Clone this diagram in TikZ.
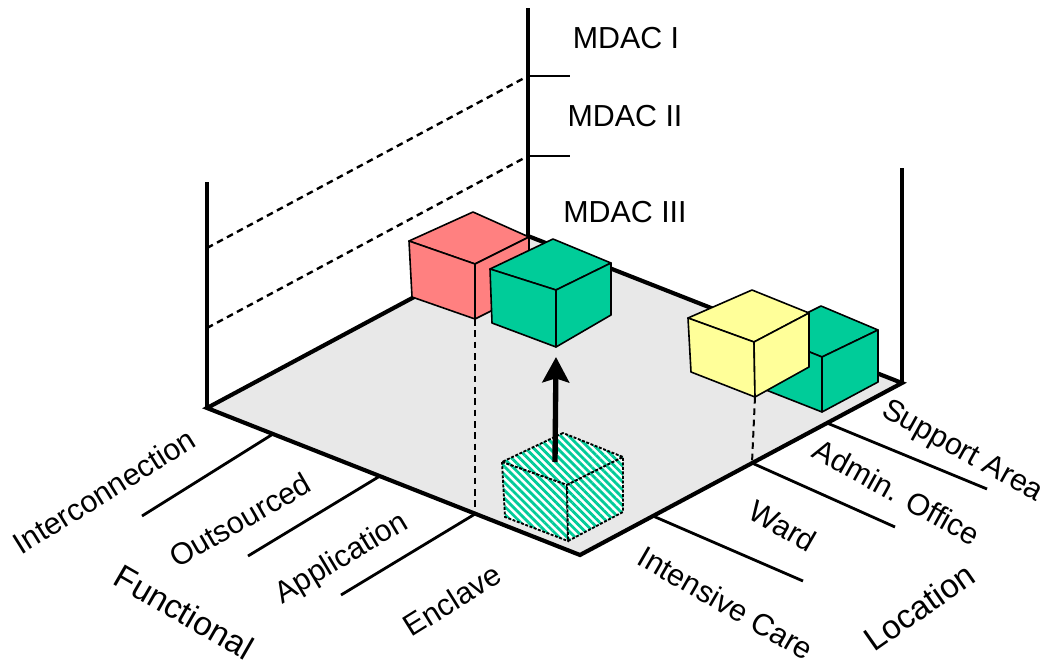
\documentclass[tikz,border=0pt]{standalone}
\usepackage{fontspec}
\setmainfont{Liberation Sans}
\usetikzlibrary{arrows.meta,patterns.meta}
\definecolor{boxred}{RGB}{255,128,128}
\definecolor{boxgreen}{RGB}{0,204,153}
\definecolor{boxyellow}{RGB}{255,255,153}
\definecolor{floorgray}{RGB}{232,232,232}
\newcommand\drawcube[8]{%
  \path[#1] (#2) -- (#3) -- (#4) -- (#5) -- cycle;
  \path[#1] (#3) -- (#4) -- (#7) -- (#6) -- cycle;
  \path[#1] (#4) -- (#5) -- (#8) -- (#7) -- cycle;
}
\begin{document}
\begin{tikzpicture}[x=0.75pt,y=-0.75pt,
  floorline/.style={line width=3.1pt, line join=miter},
  axisline/.style={line width=2.5pt},
  tickline/.style={line width=2.1pt},
  guide/.style={line width=1.8pt, dash pattern=on 5pt off 3.5pt},
  solidbox/.style={draw=black, line width=1.2pt, line join=round},
  hatchbox/.style={preaction={fill=white}, solid, pattern={Lines[angle=-45,distance=4.2pt,line width=2.1pt]}, pattern color=boxgreen, postaction={draw=black, line width=1.4pt, dash pattern=on 2.2pt off 1.2pt}},
  lbl/.style={font=\fontsize{22.8}{27}\selectfont, inner sep=0pt},
  biglbl/.style={font=\fontsize{25}{29}\selectfont, inner sep=0pt},
  bigarrow/.style={line width=4pt, -{Stealth[length=19pt,width=20pt,inset=3pt]}},
]
\useasboundingbox (0,0) rectangle (1053,667);
% floor
\coordinate (fl) at (207,408);
\coordinate (fb) at (528,236);
\coordinate (fr) at (902,383);
\coordinate (ff) at (580,555);
\filldraw[fill=floorgray, floorline] (fl) -- (fb) -- (fr) -- (ff) -- cycle;
% vertical axes
\coordinate (ltop) at (207,182);
\coordinate (mtop) at (528,8);
\coordinate (rtop) at (902,168);
\draw[axisline] (fl) -- (ltop);
\draw[axisline, line width=2.9pt] (fb) -- (mtop);
\draw[axisline] (fr) -- (rtop);
% level ticks and guides
\coordinate (m1) at (528,76); \coordinate (m1e) at (570,76);
\coordinate (m2) at (528,156); \coordinate (m2e) at (570,156);
\coordinate (l1) at (207,248); \coordinate (l2) at (207,328);
\draw[tickline] (m1) -- (m1e);
\draw[tickline] (m2) -- (m2e);
\draw[guide] (l1) -- (m1);
\draw[guide] (l2) -- (m2);
% functional ticks
\coordinate (fa1) at (273,434); \coordinate (fa1e) at (142,516);
\coordinate (fa2) at (380,476); \coordinate (fa2e) at (248,556);
\coordinate (fa3) at (475,514); \coordinate (fa3e) at (341,595);
\draw[tickline] (fa1) -- (fa1e);
\draw[tickline] (fa2) -- (fa2e);
\draw[tickline] (fa3) -- (fa3e);
% location ticks
\coordinate (lo1) at (653,516); \coordinate (lo1e) at (803,581);
\coordinate (lo2) at (752,463); \coordinate (lo2e) at (895,527);
\coordinate (lo3) at (827,423); \coordinate (lo3e) at (987,489);
\draw[tickline] (lo1) -- (lo1e);
\draw[tickline] (lo2) -- (lo2e);
\draw[tickline] (lo3) -- (lo3e);
% red cube
\drawcube{solidbox, fill=boxred}{473,212}{409,241}{475,264}{529,237}{412,297}{475,319}{529,292}
\coordinate (redbf) at (475,319);
\draw[guide, line width=1.5pt] (redbf) -- (fa3);
% green cube (upper)
\drawcube{solidbox, fill=boxgreen}{553,239}{490,269}{556,290}{611,263}{492,323}{556,347}{611,315}
% hatched cube
\drawcube{hatchbox}{563,433}{502,462}{567,485}{623,457}{505,517}{568,541}{623,512}
% arrow
\coordinate (hatchtop) at (555,462);
\coordinate (greenbot) at (556,357);
\draw[bigarrow] (hatchtop) -- (greenbot);
% green cube (right)
\drawcube{solidbox, fill=boxgreen}{821,306}{765,334}{822,357}{878,330}{766,390}{822,412}{878,382}
% yellow cube
\drawcube{solidbox, fill=boxyellow}{752,290}{688,318}{754,342}{809,313}{691,372}{755,397}{809,367}
\coordinate (yelbf) at (755,397);
\draw[guide, line width=1.5pt] (yelbf) -- (lo2);
% level labels
\node[lbl] (mdac1) at (626,38) {MDAC I};
\node[lbl] (mdac2) at (625,116) {MDAC II};
\node[lbl] (mdac3) at (625,212) {MDAC III};
% functional labels
\node[lbl, rotate=32] (interc) at (104,491) {Interconnection};
\node[lbl, rotate=30] (outs) at (240,520) {Outsourced};
\node[lbl, rotate=31] (appl) at (342,559) {Application};
\node[lbl, rotate=32] (encl) at (452,600) {Enclave};
\node[biglbl, rotate=-30] (func) at (184,612) {Functional};
% location labels
\node[lbl, rotate=-29] (supp) at (962,452) {Support Area};
\node[lbl, rotate=-29] (admin) at (897,492) {Admin. Office};
\node[lbl, rotate=-30] (ward) at (783,526) {Ward};
\node[lbl, rotate=-30] (icare) at (726,603) {Intensive Care};
\node[biglbl, rotate=35] (loc) at (919,607) {Location};
\end{tikzpicture}
\end{document}
